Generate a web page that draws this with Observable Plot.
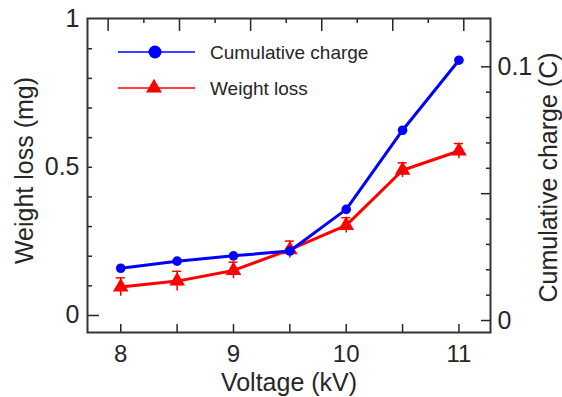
<!DOCTYPE html>
<html><head><meta charset="utf-8">
<script src="https://cdn.jsdelivr.net/npm/d3@7"></script>
<script src="https://cdn.jsdelivr.net/npm/@observablehq/plot@0.6"></script>
<style>
html,body{margin:0;padding:0;background:#fff;}
#wrap{position:relative;width:562px;height:397px;font-family:"Liberation Sans",Arial,sans-serif;}
#wrap svg{display:block;}
#legend{position:absolute;left:0;top:0;}
</style></head><body><div id="wrap"></div>
<script>
// ---- data ----
const voltage = [8, 8.5, 9, 9.5, 10, 10.5, 11];               // kV
const charge = [0.0206, 0.0234, 0.0255, 0.0274, 0.0438, 0.0750, 0.1026]; // C (right axis)
const weightLoss = [0.096, 0.116, 0.152, 0.222, 0.304, 0.490, 0.555];    // mg (left axis)
const weightErr = [0.031, 0.033, 0.028, 0.029, 0.026, 0.025, 0.025];

const xTickLabels = [8, 9, 10, 11];
const xTickMarks = [8, 8.5, 9, 9.5, 10, 10.5, 11];
const topMajorTicks = [7.888, 8.521, 9.152, 9.783, 10.413, 11.043];
const topMinorTicks = [8.205, 8.837, 9.468, 10.098, 10.728];
const leftTickLabels = [0, 0.5, 1];
const leftTickMarks = [0.1, 0.2, 0.3, 0.4, 0.5, 0.6, 0.7, 0.8, 0.9];
const leftLongTicks = [0];
const rightTickLabels = [0, 0.1];
const rightTickMarks = [0.01, 0.02, 0.03, 0.04, 0.06, 0.07, 0.08, 0.09, 0.11];
const rightLongTicks = [0, 0.05, 0.1];
const legendLabels = ["Cumulative charge", "Weight loss"];
const xLabel = "Voltage (kV)";
const yLabel = "Weight loss (mg)";
const y2Label = "Cumulative charge (C)";

// right axis (C) expressed in left-axis units (mg)
const rightZero = -0.017, rightPerUnit = 8.56;
const toLeft = c => rightZero + c * rightPerUnit;

const blue = "#0000ff", red = "#ff0000", ink = "#262626";
const chargeData = voltage.map((v, i) => ({v, y: toLeft(charge[i])}));
const lossData = voltage.map((v, i) => ({v, y: weightLoss[i], e: weightErr[i]}));
const capHalf = 0.04;

const rightLabelMap = new Map(rightTickLabels.map(c => [toLeft(c), String(c)]));

const chart = Plot.plot({
  width: 562, height: 397,
  marginLeft: 87, marginRight: 72, marginTop: 18, marginBottom: 65,
  style: {fontFamily: '"Liberation Sans", Arial, sans-serif', color: ink, background: "#fff"},
  x: {domain: [7.705, 11.28]},
  y: {domain: [-0.0574, 1.002]},
  marks: [
    // bottom axis
    Plot.axisX(xTickMarks, {anchor: "bottom", tickSize: -8, strokeWidth: 1.5, fill: "none", label: null}),
    Plot.axisX(xTickLabels, {anchor: "bottom", tickSize: 0, tickPadding: 12, fontSize: 24, label: null, tickFormat: d => String(d)}),
    // top axis ticks
    Plot.axisX(topMajorTicks, {anchor: "top", tickSize: -12, strokeWidth: 1.5, fill: "none", label: null}),
    Plot.axisX(topMinorTicks, {anchor: "top", tickSize: -4, strokeWidth: 1.5, fill: "none", label: null}),
    // left axis
    Plot.axisY(leftTickMarks, {anchor: "left", tickSize: -5, strokeWidth: 1.5, fill: "none", label: null}),
    Plot.axisY(leftLongTicks, {anchor: "left", tickSize: -12, strokeWidth: 1.5, fill: "none", label: null}),
    Plot.axisY(leftTickLabels, {anchor: "left", tickSize: 0, tickPadding: 8, fontSize: 25, label: null, tickFormat: d => String(d)}),
    // right axis
    Plot.axisY(rightTickMarks.map(toLeft), {anchor: "right", tickSize: -5, strokeWidth: 1.5, fill: "none", label: null}),
    Plot.axisY(rightLongTicks.map(toLeft), {anchor: "right", tickSize: -10, strokeWidth: 1.5, fill: "none", label: null}),
    Plot.axisY(rightTickLabels.map(toLeft), {anchor: "right", tickSize: 0, tickPadding: 7, fontSize: 25, label: null,
      tickFormat: d => rightLabelMap.get(d)}),
    Plot.frame({stroke: "#333", strokeWidth: 2}),
    // axis titles
    Plot.text([xLabel], {frameAnchor: "bottom", dy: 50, fontSize: 25, fill: ink, lineAnchor: "middle", textAnchor: "middle"}),
    Plot.text([yLabel], {frameAnchor: "left", dx: -63, dy: -5, rotate: -90, fontSize: 25, fill: ink, lineAnchor: "middle", textAnchor: "middle"}),
    Plot.text([y2Label], {frameAnchor: "right", dx: 58, dy: 2, rotate: -90, fontSize: 25, fill: ink, lineAnchor: "middle", textAnchor: "middle"}),
    // weight loss with error bars
    Plot.ruleX(lossData, {x: "v", y1: d => d.y - d.e, y2: d => d.y + d.e, stroke: red, strokeWidth: 1.5}),
    Plot.ruleY(lossData, {y: d => d.y + d.e, x1: d => d.v - capHalf, x2: d => d.v + capHalf, stroke: red, strokeWidth: 1.5}),
    Plot.line(lossData, {x: "v", y: "y", stroke: red, strokeWidth: 3}),
    Plot.dot(lossData, {x: "v", y: "y", symbol: "triangle", r: 5.8, fill: red, stroke: null}),
    // cumulative charge
    Plot.line(chargeData, {x: "v", y: "y", stroke: blue, strokeWidth: 3}),
    Plot.dot(chargeData, {x: "v", y: "y", r: 4.8, fill: blue, stroke: null})
  ]
});
document.getElementById("wrap").appendChild(chart);

// legend overlay
const leg = d3.select("#wrap").append("svg").attr("id", "legend").attr("width", 562).attr("height", 397);
const legendItems = [
  {label: legendLabels[0], color: blue, symbol: "circle", y: 52},
  {label: legendLabels[1], color: red, symbol: "triangle", y: 88}
];
legendItems.forEach(it => {
  const g = leg.append("g").attr("transform", `translate(0,${it.y})`);
  g.append("line").attr("x1", 118).attr("x2", 195).attr("y1", 0).attr("y2", 0)
    .attr("stroke", it.color).attr("stroke-width", 1.5);
  if (it.symbol === "circle") {
    g.append("circle").attr("cx", 155).attr("cy", 0).attr("r", 6.5).attr("fill", it.color);
  } else {
    g.append("path").attr("transform", "translate(154,0)")
      .attr("d", d3.symbol(d3.symbolTriangle, 110)()).attr("fill", it.color);
  }
  g.append("text").attr("x", 210).attr("y", 7).attr("font-size", 19)
    .attr("font-family", '"Liberation Sans", Arial, sans-serif').attr("fill", ink).text(it.label);
});
</script>
</body></html>
